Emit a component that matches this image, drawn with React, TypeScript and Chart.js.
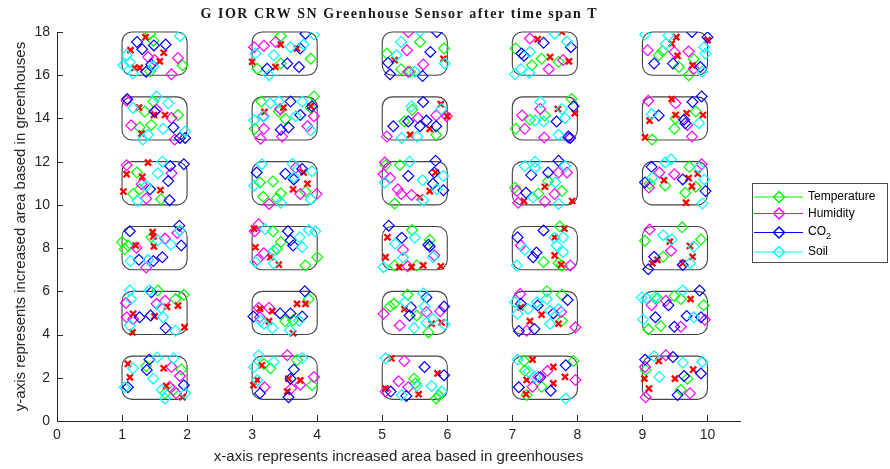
import React, { useEffect, useRef } from "react";
import { Chart, registerables } from "chart.js";

Chart.register(...registerables);

const TITLE = "G IOR CRW SN Greenhouse Sensor after time span T";
const X_TITLE = "x-axis represents increased area based in greenhouses";
const Y_TITLE = "y-axis represents increased area based in greenhouses";

const seriesNames = ["Temperature", "Humidity", "CO2", "Soil"];
const seriesColors = ["#00ff00", "#ff00ff", "#0000ff", "#00ffff"];
const alertColor = "#ff0000";

// greenhouse blocks (lower-left corners), width 1 and height 2
const greenhouseX = [1, 3, 5, 7, 9];
const greenhouseY = [1, 4, 7, 10, 13, 16];
const greenhouseW = 1;
const greenhouseH = 2;

const xTickValues = [0, 1, 2, 3, 4, 5, 6, 7, 8, 9, 10];
const yTickValues = [0, 2, 4, 6, 8, 10, 12, 14, 16, 18];

const temperaturePoints: [number, number][] = [
  [1.43, 17.92], [1.93, 16.46], [1.43, 16.18], [1.48, 17.6],
  [3.44, 17.82], [3.9, 16.76], [3.08, 16.3], [3.44, 16.54],
  [1.48, 14.78], [1.86, 14.16], [1.35, 14.32], [1.45, 13.7], [1.27, 13.58],
  [3.14, 14.78], [3.41, 14.32], [3.51, 13.98], [3.95, 15.02], [3.04, 13.52], [3.9, 14.5],
  [1.23, 11.5], [1.17, 10.5], [1.6, 10.26], [1.27, 10.72],
  [3.12, 11.04], [3.32, 11.08], [3.17, 10.38], [3.38, 10.3], [3.44, 10.54], [3.82, 10.62],
  [1.0, 8.28], [1.09, 8.12], [1.45, 8.5], [1.04, 7.95],
  [3.32, 8.78], [3.44, 8.28], [3.38, 7.96], [3.82, 7.2], [4.0, 7.58],
  [1.55, 6.04], [1.82, 5.64], [1.95, 5.84],
  [3.87, 5.64], [3.51, 4.62], [3.63, 4.66],
  [1.37, 2.54], [1.91, 2.38], [1.66, 1.28], [1.79, 1.44],
  [3.18, 2.64], [3.28, 2.44], [3.69, 2.82], [3.92, 1.66],
  [5.07, 17.0], [5.58, 17.54], [5.95, 17.24], [5.29, 16.28], [5.43, 16.16],
  [7.05, 17.24], [7.3, 16.46], [7.45, 16.76], [7.71, 16.62],
  [5.34, 13.86], [5.46, 14.4], [5.83, 13.24],
  [7.05, 13.52], [7.27, 13.94], [7.91, 14.9], [7.5, 14.14],
  [5.05, 11.84], [5.27, 11.84], [5.19, 10.06],
  [7.04, 10.8], [7.4, 10.52], [7.76, 10.64], [7.55, 11.1],
  [5.46, 8.84], [5.73, 8.38], [5.19, 7.2], [5.53, 7.2],
  [7.73, 9.0], [7.48, 7.36], [7.71, 7.3], [7.76, 7.2],
  [5.12, 5.3], [5.18, 5.42], [5.39, 5.84], [5.53, 4.88], [5.71, 4.1],
  [7.53, 6.0], [7.76, 5.84], [7.76, 4.64],
  [5.49, 1.96], [5.51, 1.74], [5.83, 1.04], [5.87, 1.18],
  [7.18, 2.78], [7.19, 2.32], [7.94, 2.78], [7.45, 1.58], [7.22, 1.2],
  [9.31, 17.12], [9.25, 16.92], [9.56, 16.38], [9.79, 16.74], [9.71, 16.0],
  [9.51, 14.0], [9.82, 14.32], [9.49, 13.52], [9.15, 13.02],
  [9.35, 10.9], [9.72, 11.76], [9.66, 10.56], [9.11, 10.98], [9.82, 10.84],
  [9.61, 8.96], [9.04, 8.34], [9.9, 8.4], [9.32, 7.6],
  [9.23, 5.68], [9.49, 5.78], [9.59, 5.64], [9.94, 5.36], [9.28, 4.4], [9.09, 4.24],
  [9.05, 2.36], [9.69, 1.96], [9.59, 1.44],
];

const humidityPoints: [number, number][] = [
  [1.4, 16.84], [1.86, 16.8], [1.76, 16.04], [1.5, 16.7],
  [3.03, 17.3], [3.18, 17.36], [3.36, 17.54],
  [1.07, 14.82], [1.53, 14.4], [1.14, 13.68], [1.76, 14.02], [1.81, 13.02],
  [3.17, 14.1], [3.43, 14.44], [3.18, 13.52], [3.46, 13.16], [3.85, 13.64], [3.13, 13.06], [3.95, 14.1],
  [1.07, 11.84], [1.76, 11.46], [1.3, 10.96], [1.37, 10.3],
  [3.26, 10.04], [3.74, 10.5], [3.99, 10.5], [3.67, 11.72],
  [1.22, 8.02], [1.66, 8.44], [1.85, 8.7], [1.37, 7.1],
  [3.04, 8.78], [3.1, 9.1], [3.18, 7.76], [3.08, 7.46],
  [1.06, 5.46], [1.53, 5.42], [1.66, 5.56], [1.07, 4.8], [1.17, 4.72],
  [3.1, 5.24], [3.26, 5.24], [3.12, 4.8],
  [1.76, 2.5], [1.89, 2.08], [1.73, 1.58], [1.83, 1.28],
  [3.54, 3.04], [3.19, 1.56], [3.74, 1.68], [3.95, 2.04], [3.6, 1.5],
  [5.4, 18.0], [5.38, 17.16], [5.63, 16.5], [5.4, 16.16],
  [7.27, 17.7], [7.78, 16.7], [7.56, 16.28],
  [5.07, 13.16], [5.83, 14.14], [5.99, 14.1], [5.55, 14.02],
  [7.15, 14.14], [7.19, 13.52], [7.43, 14.44], [7.49, 13.12], [7.86, 13.12],
  [5.04, 11.96], [5.02, 11.42], [5.12, 11.24], [5.24, 10.72], [5.45, 10.46], [5.29, 10.5],
  [7.84, 11.5], [7.71, 11.5], [7.07, 10.64], [7.09, 10.1], [7.5, 10.16], [7.65, 10.5],
  [5.32, 7.92], [5.8, 7.66], [5.39, 7.16],
  [7.13, 8.12], [7.89, 7.2],
  [5.02, 4.96], [5.27, 4.42], [5.68, 5.04], [5.89, 5.08],
  [7.12, 5.88], [7.75, 5.04], [7.97, 4.34], [7.22, 4.18],
  [5.34, 2.78], [5.25, 1.84], [5.05, 1.36], [5.4, 1.56],
  [7.4, 2.04], [7.54, 2.32], [7.31, 1.58], [7.97, 1.9],
  [9.08, 17.16], [9.49, 17.08], [9.71, 17.1], [9.79, 16.3],
  [9.09, 14.82], [9.51, 14.7], [9.69, 13.7], [9.76, 13.16],
  [9.26, 11.5], [9.49, 11.42], [9.91, 11.88], [9.1, 10.8],
  [9.11, 8.86], [9.44, 7.88],
  [9.14, 5.36], [9.36, 5.56], [9.59, 4.36], [9.96, 4.68],
  [9.36, 3.04], [9.05, 1.1], [9.73, 1.28], [9.04, 2.5],
];

const co2Points: [number, number][] = [
  [1.23, 17.54], [1.31, 17.2], [1.49, 17.38], [1.67, 17.42], [1.45, 16.5], [1.37, 16.16],
  [3.82, 17.92], [3.74, 17.24], [3.72, 16.38], [3.54, 16.54], [3.23, 16.3],
  [1.08, 14.9], [1.5, 14.32], [1.79, 13.58], [1.89, 13.1], [1.97, 13.1],
  [3.59, 14.78], [3.74, 14.16], [3.92, 14.56], [3.56, 13.58], [3.44, 13.48],
  [1.74, 11.8], [1.95, 11.88], [1.71, 11.1], [1.43, 10.72], [1.73, 10.22],
  [3.07, 11.5], [3.51, 11.44], [3.77, 11.66], [3.64, 11.18],
  [1.12, 8.78], [1.88, 9.04], [1.26, 7.46], [1.48, 7.4], [1.62, 7.58], [1.91, 8.12],
  [3.55, 8.78], [3.59, 8.36], [3.63, 8.12],
  [1.45, 5.96], [1.27, 4.8], [1.44, 4.88], [1.67, 4.3],
  [3.81, 6.0], [3.02, 4.84], [3.43, 4.98], [3.59, 4.98], [3.77, 4.84],
  [1.42, 2.84], [1.38, 2.36], [1.09, 1.56], [1.95, 1.66],
  [3.64, 2.38], [3.59, 1.96], [3.12, 1.28], [3.56, 1.1],
  [5.09, 16.58], [5.12, 16.04], [5.84, 18.0], [5.74, 17.08], [5.62, 15.96],
  [7.14, 17.0], [7.18, 16.9], [7.48, 17.5], [7.9, 17.3],
  [5.63, 14.76], [5.17, 13.64], [5.4, 13.86], [5.68, 13.9], [5.58, 13.64], [5.83, 13.64],
  [7.68, 13.86], [7.94, 14.56], [7.86, 13.16], [7.89, 13.1],
  [5.82, 12.04], [5.4, 11.34], [5.8, 11.5], [5.78, 10.98], [5.94, 10.68],
  [7.29, 11.38], [7.55, 11.5], [7.71, 12.04], [7.21, 10.56],
  [5.1, 9.04], [5.3, 8.48], [5.71, 8.16], [5.73, 8.08],
  [7.48, 8.82], [7.08, 8.5], [7.32, 7.58], [7.37, 7.8],
  [5.68, 5.72], [5.44, 5.26], [5.42, 4.88], [5.95, 5.3],
  [7.13, 5.42], [7.39, 5.34], [7.85, 5.6], [7.63, 4.98], [7.1, 4.16], [7.34, 4.26],
  [5.65, 2.5], [5.95, 2.12], [5.13, 1.36], [5.37, 1.16],
  [7.82, 2.58], [7.43, 2.02], [7.1, 1.56], [7.59, 1.4],
  [9.76, 18.0], [10.0, 17.76], [9.18, 16.54], [9.47, 16.54], [9.89, 16.38],
  [9.77, 14.76], [9.91, 15.02], [9.25, 14.14], [9.64, 13.94], [9.66, 13.78],
  [9.14, 11.76], [9.04, 11.04], [9.62, 11.18], [9.97, 10.64],
  [9.18, 7.6], [9.09, 7.02], [9.62, 7.22],
  [9.88, 6.04], [9.4, 5.36], [9.2, 4.8], [9.68, 4.86], [9.49, 4.36], [9.9, 4.8],
  [9.04, 2.84], [9.47, 2.96], [9.9, 2.2], [9.64, 2.08], [9.54, 1.2],
];

const soilPoints: [number, number][] = [
  [1.89, 17.82], [1.07, 16.92], [1.02, 16.46], [1.17, 16.08], [1.12, 16.6], [1.48, 16.4],
  [3.95, 17.88], [3.79, 17.42], [3.33, 16.92], [3.26, 16.0], [3.05, 17.0], [3.59, 17.3],
  [1.53, 15.02], [1.71, 14.7], [1.17, 14.48], [1.63, 13.52], [1.4, 13.24], [1.97, 13.4], [1.32, 13.02],
  [3.28, 14.7], [3.18, 14.1], [3.03, 13.92], [3.41, 14.78], [3.77, 14.78], [3.67, 14.1], [3.9, 13.44],
  [1.62, 12.0], [1.55, 11.46], [1.37, 10.88], [1.24, 10.18],
  [3.15, 11.88], [3.62, 11.9], [3.03, 10.88], [3.64, 11.28], [3.92, 11.56], [3.44, 10.1], [3.9, 10.26],
  [1.13, 7.4], [1.4, 7.46], [1.75, 8.16], [1.55, 8.36], [1.89, 8.82],
  [3.2, 8.88], [3.33, 7.88], [3.73, 8.5], [3.87, 8.84], [3.77, 8.04], [3.97, 8.78], [3.33, 7.3], [3.05, 7.36],
  [1.12, 6.04], [1.14, 5.64], [1.42, 6.04], [1.63, 4.8], [1.12, 4.42], [1.82, 4.18], [1.6, 5.24],
  [3.13, 4.64], [3.18, 4.5], [3.31, 4.3], [3.58, 4.2], [3.72, 4.64],
  [1.17, 2.44], [1.04, 1.56], [1.54, 2.94], [1.79, 2.9], [1.48, 1.96], [1.61, 1.44], [1.66, 1.04], [1.97, 1.28],
  [3.1, 3.04], [3.03, 2.5], [3.33, 2.74], [3.77, 2.9], [3.08, 1.9],
  [5.29, 17.54], [5.22, 16.92], [5.58, 18.04], [5.96, 16.54], [5.5, 16.16],
  [7.65, 17.92], [7.04, 16.04], [7.13, 16.28], [7.26, 16.12], [7.84, 17.56], [7.27, 17.08],
  [5.45, 14.56], [5.91, 14.44], [5.3, 13.1], [5.54, 13.16],
  [7.43, 14.76], [7.35, 13.9], [7.48, 13.86], [7.76, 14.44], [7.81, 14.02], [7.71, 13.24],
  [5.42, 12.0], [5.04, 11.04], [5.62, 11.14], [5.84, 10.72], [5.63, 10.22], [5.94, 11.34],
  [7.19, 11.8], [7.35, 12.0], [7.35, 11.72], [7.81, 11.8], [7.66, 11.04], [7.71, 10.04], [7.32, 10.34],
  [5.5, 8.48], [5.2, 8.2], [5.32, 7.56], [5.02, 7.12], [5.78, 7.58],
  [7.19, 7.92], [7.65, 8.48], [7.78, 8.5], [7.68, 8.12], [7.78, 7.82], [7.07, 7.2],
  [5.63, 5.9], [5.35, 5.5], [5.65, 5.3], [5.68, 4.56], [5.49, 4.3], [5.78, 4.72], [5.96, 4.46],
  [7.04, 5.5], [7.24, 5.18], [7.38, 5.5], [7.53, 5.64], [7.58, 5.1], [7.71, 5.18], [7.08, 4.96], [7.58, 4.5],
  [5.05, 2.9], [5.53, 1.62], [5.76, 1.62], [5.91, 1.36], [5.3, 1.2],
  [7.08, 2.84], [7.25, 2.28], [7.35, 2.04], [7.82, 1.04],
  [9.04, 17.88], [9.4, 17.84], [9.36, 17.46], [9.95, 17.3], [9.97, 17.0], [9.92, 16.16],
  [9.14, 14.2], [9.87, 13.78],
  [9.35, 11.96], [9.44, 12.1], [9.15, 11.26], [9.95, 11.18], [9.92, 10.06], [9.87, 11.72],
  [9.32, 8.6], [9.45, 8.4], [9.79, 8.06], [9.73, 7.3],
  [8.99, 5.72], [9.06, 5.68], [9.19, 5.72], [9.62, 6.04], [9.01, 4.7], [9.79, 4.8],
  [9.18, 3.0], [9.62, 2.7], [9.92, 2.74], [9.26, 2.04],
];

const alertPoints: [number, number][] = [
  [1.36, 17.76], [1.13, 17.16], [1.64, 17.04], [1.58, 16.64], [1.19, 16.34], [1.27, 16.34],
  [3.44, 17.42], [3.69, 17.24], [3.0, 16.62], [3.36, 16.38],
  [1.26, 14.5], [1.66, 14.16], [1.3, 13.3], [1.49, 14.16],
  [3.19, 14.3], [3.48, 14.5], [3.9, 14.56],
  [1.4, 11.96], [1.07, 11.42], [1.31, 11.3], [1.02, 10.62], [1.59, 10.68],
  [3.79, 11.5], [3.85, 10.98], [3.63, 10.72],
  [1.47, 8.74], [1.48, 8.54], [1.21, 8.12], [1.49, 8.08],
  [3.03, 8.9], [3.05, 8.04], [3.28, 7.58], [3.41, 7.24],
  [1.69, 5.28], [1.86, 5.34], [1.17, 4.96], [1.5, 4.84], [1.16, 4.1], [1.96, 4.34],
  [3.69, 5.42], [3.82, 5.42], [3.12, 5.2], [3.31, 5.08], [3.26, 4.62], [3.63, 4.06],
  [1.09, 2.64], [1.12, 2.02], [1.64, 2.44], [1.68, 1.62], [1.93, 1.1],
  [3.15, 2.58], [3.08, 1.9], [3.02, 1.66], [3.56, 1.96], [3.74, 1.88], [3.54, 1.36],
  [5.19, 16.7], [5.94, 16.76],
  [7.39, 17.66], [7.76, 18.0], [7.58, 16.84], [7.87, 16.64],
  [5.9, 14.66], [6.0, 14.1], [5.43, 13.24], [5.73, 13.52],
  [7.7, 14.44], [7.96, 14.24],
  [5.82, 11.5], [5.73, 10.64], [5.58, 10.34],
  [7.5, 10.84], [7.18, 10.18], [7.92, 10.18],
  [5.08, 8.5], [5.05, 7.58], [5.26, 7.12], [5.63, 7.2], [5.9, 7.16], [5.45, 7.12],
  [7.8, 8.9], [7.65, 8.5], [7.65, 7.66], [7.75, 7.24],
  [5.34, 5.18], [5.91, 4.56], [5.76, 4.5],
  [7.13, 5.26], [7.27, 4.62], [7.45, 4.92], [7.71, 4.5],
  [5.14, 2.9], [5.85, 2.2], [5.05, 1.5], [5.56, 1.24],
  [7.31, 2.84], [7.63, 2.5], [7.81, 2.04], [7.63, 1.74], [7.22, 1.9], [7.21, 1.24],
  [9.52, 17.76], [9.45, 17.46], [9.54, 16.9], [9.77, 16.46], [10.0, 17.62],
  [9.45, 14.9], [9.11, 13.9], [9.51, 14.16], [9.68, 14.24], [9.93, 14.16], [9.04, 13.12],
  [9.33, 11.14], [9.71, 11.24], [9.85, 11.44], [9.76, 10.86], [9.67, 10.1],
  [9.42, 8.3], [9.73, 8.1], [9.15, 7.3], [9.23, 7.46], [9.62, 7.3], [9.77, 7.6],
  [9.74, 5.64],
  [9.25, 2.78], [9.03, 1.96], [9.1, 1.5], [9.5, 1.96], [9.78, 2.38],
];

const seriesPoints = [temperaturePoints, humidityPoints, co2Points, soilPoints];

const AXIS_COLOR = "#262626";
const SANS = '"Liberation Sans", Arial, sans-serif';

const decorPlugin = {
  id: "greenhouseDecor",
  beforeDatasetsDraw(chart: any) {
    const { ctx, scales } = chart;
    const xs = scales.x;
    const ys = scales.y;
    ctx.save();
    ctx.strokeStyle = "#444444";
    ctx.lineWidth = 1.1;
    for (const gx of greenhouseX) {
      for (const gy of greenhouseY) {
        const l = xs.getPixelForValue(gx);
        const r = xs.getPixelForValue(gx + greenhouseW);
        const t = ys.getPixelForValue(gy + greenhouseH);
        const b = ys.getPixelForValue(gy);
        ctx.beginPath();
        ctx.roundRect(l, t, r - l, b - t, [10]);
        ctx.stroke();
      }
    }
    ctx.restore();
  },
  afterDraw(chart: any) {
    const { ctx, scales, chartArea } = chart;
    const xs = scales.x;
    const ys = scales.y;
    ctx.save();
    // inward tick marks
    ctx.strokeStyle = AXIS_COLOR;
    ctx.lineWidth = 1;
    ctx.beginPath();
    for (const v of xTickValues) {
      const px = Math.round(xs.getPixelForValue(v)) + 0.5;
      ctx.moveTo(px, chartArea.bottom);
      ctx.lineTo(px, chartArea.bottom - 6);
    }
    for (const v of yTickValues) {
      const py = Math.round(ys.getPixelForValue(v)) + 0.5;
      ctx.moveTo(chartArea.left, py);
      ctx.lineTo(chartArea.left + 6, py);
    }
    ctx.stroke();

    // title
    ctx.font = 'bold 14px "Liberation Serif", "DejaVu Serif", serif';
    ctx.fillStyle = "#1a1a1a";
    ctx.textBaseline = "middle";
    ctx.textAlign = "left";
    const targetW = 396;
    const w0 = ctx.measureText(TITLE).width;
    const sp = Math.max(0, (targetW - w0) / (TITLE.length - 1));
    (ctx as any).letterSpacing = sp.toFixed(2) + "px";
    const cx = (chartArea.left + chartArea.right) / 2;
    ctx.fillText(TITLE, cx - targetW / 2, 14);
    (ctx as any).letterSpacing = "0px";

    // legend
    const bx = 752.5, by = 183.5, bw = 135, bh = 79;
    ctx.fillStyle = "#ffffff";
    ctx.fillRect(bx, by, bw, bh);
    ctx.strokeStyle = "#4d4d4d";
    ctx.lineWidth = 1;
    ctx.strokeRect(bx, by, bw, bh);
    const rows = [197, 213.5, 232.5, 252];
    seriesNames.forEach((name, i) => {
      const yy = rows[i];
      ctx.strokeStyle = seriesColors[i];
      ctx.lineWidth = 1.2;
      ctx.beginPath();
      ctx.moveTo(754, yy);
      ctx.lineTo(803, yy);
      ctx.stroke();
      ctx.lineWidth = 1.5;
      ctx.beginPath();
      ctx.moveTo(779, yy - 5.5);
      ctx.lineTo(784.5, yy);
      ctx.lineTo(779, yy + 5.5);
      ctx.lineTo(773.5, yy);
      ctx.closePath();
      ctx.stroke();
      ctx.fillStyle = "#000000";
      ctx.textBaseline = "middle";
      ctx.textAlign = "left";
      ctx.font = "12px " + SANS;
      if (name === "CO2") {
        ctx.fillText("CO", 808, yy - 1);
        const w = ctx.measureText("CO").width;
        ctx.font = "9px " + SANS;
        ctx.fillText("2", 808 + w, yy + 4);
      } else {
        ctx.fillText(name, 808, yy);
      }
    });
    ctx.restore();
  },
};

export default function App() {
  const canvasRef = useRef<HTMLCanvasElement | null>(null);

  useEffect(() => {
    const canvas = canvasRef.current;
    if (!canvas) return;
    const diamondDatasets = seriesNames.map((name, i) => ({
      label: name,
      data: seriesPoints[i].map(([x, y]) => ({ x, y })),
      pointStyle: "rectRot",
      pointRadius: 5.4,
      pointBorderWidth: 1.2,
      pointBorderColor: seriesColors[i],
      pointBackgroundColor: "rgba(0,0,0,0)",
      borderColor: seriesColors[i],
      showLine: false,
      order: 4 - i,
    }));
    const alertDataset = {
      label: "alerts",
      data: alertPoints.map(([x, y]) => ({ x, y })),
      pointStyle: "crossRot",
      pointRadius: 4.3,
      pointBorderWidth: 2.3,
      pointBorderColor: alertColor,
      pointBackgroundColor: alertColor,
      borderColor: alertColor,
      showLine: false,
      order: 2,
    };
    const chart = new Chart(canvas, {
      type: "scatter",
      data: { datasets: [...diamondDatasets, alertDataset] as any },
      options: {
        responsive: false,
        animation: false,
        devicePixelRatio: 1,
        layout: { padding: { left: 0, right: 150, top: 32, bottom: 0 } },
        plugins: {
          legend: { display: false },
          title: { display: false },
          tooltip: { enabled: false },
        },
        scales: {
          x: {
            type: "linear",
            min: 0,
            max: 10.5,
            afterFit: (s: any) => {
              s.height = 48;
            },
            ticks: {
              stepSize: 1,
              includeBounds: false,
              padding: 6,
              color: AXIS_COLOR,
              font: { family: SANS, size: 14 },
              maxRotation: 0,
              autoSkip: false,
            },
            grid: { display: false, drawTicks: false },
            border: { display: true, color: AXIS_COLOR, width: 1 },
            title: {
              display: true,
              text: X_TITLE,
              color: AXIS_COLOR,
              font: { family: SANS, size: 15 },
              padding: { top: 0, bottom: 3 },
            },
          },
          y: {
            type: "linear",
            min: 0,
            max: 18,
            afterFit: (s: any) => {
              s.width = 57;
            },
            ticks: {
              stepSize: 2,
              includeBounds: false,
              padding: 7,
              color: AXIS_COLOR,
              font: { family: SANS, size: 14 },
              autoSkip: false,
            },
            grid: { display: false, drawTicks: false },
            border: { display: true, color: AXIS_COLOR, width: 1 },
            title: {
              display: true,
              text: Y_TITLE,
              color: AXIS_COLOR,
              font: { family: SANS, size: 15 },
              padding: { top: 12, bottom: 0 },
            },
          },
        },
      } as any,
      plugins: [decorPlugin],
    });
    return () => chart.destroy();
  }, []);

  return (
    <div
      style={{
        position: "absolute",
        left: 0,
        top: 0,
        width: 890,
        height: 469,
        background: "#ffffff",
      }}
    >
      <canvas ref={canvasRef} width={890} height={469} style={{ display: "block" }} />
    </div>
  );
}
